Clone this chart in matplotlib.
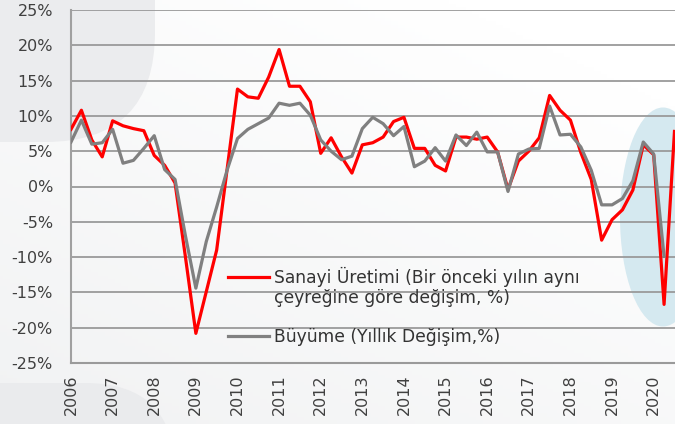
import numpy as np
import matplotlib.pyplot as plt
from matplotlib.patches import Ellipse, FancyBboxPatch
from matplotlib.lines import Line2D

# Quarterly data, 2006Q1 .. 2020Q3 (%, y/y)
years = list(range(2006, 2021))

sanayi = [8.1, 10.8, 6.6, 4.2,
          9.3, 8.6, 8.2, 7.9,
          4.4, 3.0, 0.5, -10.0,
          -20.8, -14.9, -9.0, 2.4,
          13.8, 12.7, 12.5, 15.5,
          19.4, 14.2, 14.2, 12.0,
          4.7, 6.9, 4.2, 1.9,
          5.9, 6.2, 7.0, 9.2,
          9.8, 5.4, 5.4, 3.0,
          2.2, 7.0, 7.0, 6.7,
          7.0, 4.9, -0.4, 3.6,
          5.0, 6.9, 12.9, 10.8,
          9.4, 4.8, 1.0, -7.6,
          -4.7, -3.3, -0.5, 5.9,
          4.5, -16.7, 7.8]

buyume = [6.3, 9.4, 6.0, 6.2,
          8.1, 3.3, 3.7, 5.4,
          7.2, 2.4, 1.0, -7.0,
          -14.4, -7.8, -2.9, 2.3,
          6.8, 8.1, 8.9, 9.7,
          11.8, 11.5, 11.8, 10.1,
          6.6, 5.0, 3.8, 4.3,
          8.2, 9.8, 8.9, 7.2,
          8.5, 2.8, 3.6, 5.5,
          3.6, 7.3, 5.8, 7.7,
          4.9, 4.9, -0.7, 4.6,
          5.3, 5.4, 11.4, 7.3,
          7.4, 5.6, 2.3, -2.6,
          -2.6, -1.7, 0.8, 6.3,
          4.6, -9.9]

yticks = list(range(-25, 30, 5))
label_sanayi = ["Sanayi Üretimi (Bir önceki yılın aynı", "çeyreğine göre değişim, %)"]
label_buyume = "Büyüme (Yıllık Değişim,%)"

plt.rcParams['font.family'] = ['DejaVu Sans']
W, H = 675, 424
fig = plt.figure(figsize=(W / 100, H / 100), dpi=100)

# background decoration, pixel coordinates
bg = fig.add_axes([0, 0, 1, 1], zorder=0)
bg.set_xlim(0, W)
bg.set_ylim(H, 0)
bg.axis('off')
gx, gy = np.meshgrid(np.linspace(0, 1, 200), np.linspace(0, 1, 120))
t = np.clip((gx * 0.6 + (1 - gy) * 0.8) / 1.2, 0, 1)
c0 = np.array([0.945, 0.949, 0.953])
c1 = np.array([1.0, 1.0, 1.0])
img = c0[None, None, :] * (1 - t[..., None]) + c1[None, None, :] * t[..., None]
bg.imshow(img, extent=[0, W, H, 0], aspect='auto', zorder=0)
bg.add_patch(FancyBboxPatch((-300, -300), 455, 442, boxstyle="round,pad=0,rounding_size=110",
                            fc='#ebecee', ec='none', zorder=1))
bg.add_patch(FancyBboxPatch((-300, 383), 475, 300, boxstyle="round,pad=0,rounding_size=90",
                            fc='#eaebed', ec='none', zorder=1))
bg.add_patch(Ellipse((663, 217), 86, 219, fc='#d5e9f0', ec='none', zorder=2))

# main chart
ax = fig.add_axes([71 / W, 61 / H, 604 / W, 353 / H], zorder=1)
ax.set_facecolor('none')

x1 = np.arange(len(sanayi))
x2 = np.arange(len(buyume))
red_line, = ax.plot(x1, sanayi, color='#ff0000', lw=2.3, zorder=3)
gray_line, = ax.plot(x2, buyume, color='#808080', lw=2.3, zorder=4)

ax.set_xlim(0, 58.05)
ax.set_ylim(-25, 25)
ax.set_yticks(yticks)
ax.set_yticklabels([f"{v}%" for v in yticks])
ax.set_xticks(np.arange(len(years)) * 4)
ax.set_xticklabels([str(y) for y in years])
ax.yaxis.grid(True, color='#9a9a9a', lw=1.3)
ax.set_axisbelow(True)
ax.tick_params(axis='both', length=0, labelsize=11.5, labelcolor='#404040')
ax.tick_params(axis='y', pad=13)
ax.tick_params(axis='x', pad=8, labelrotation=90)
for s in ['top', 'right']:
    ax.spines[s].set_visible(False)
ax.spines['left'].set_color('#a0a0a0')
ax.spines['left'].set_linewidth(1.5)
ax.spines['bottom'].set_color('#9a9a9a')
ax.spines['bottom'].set_linewidth(1.5)

blank = Line2D([], [], color='none')
leg1 = ax.legend([red_line, blank], label_sanayi, loc='center left',
                 bbox_to_anchor=(0.26, 0.2153), frameon=False, fontsize=12.3,
                 handlelength=2.4, handletextpad=0.3, labelspacing=0.15,
                 borderpad=0, borderaxespad=0, labelcolor='#333333')
ax.add_artist(leg1)
ax.legend([gray_line], [label_buyume], loc='center left',
          bbox_to_anchor=(0.26, 0.0737), frameon=False, fontsize=12.3,
          handlelength=2.4, handletextpad=0.3,
          borderpad=0, borderaxespad=0, labelcolor='#333333')

fig.savefig('out.png', dpi=100)
